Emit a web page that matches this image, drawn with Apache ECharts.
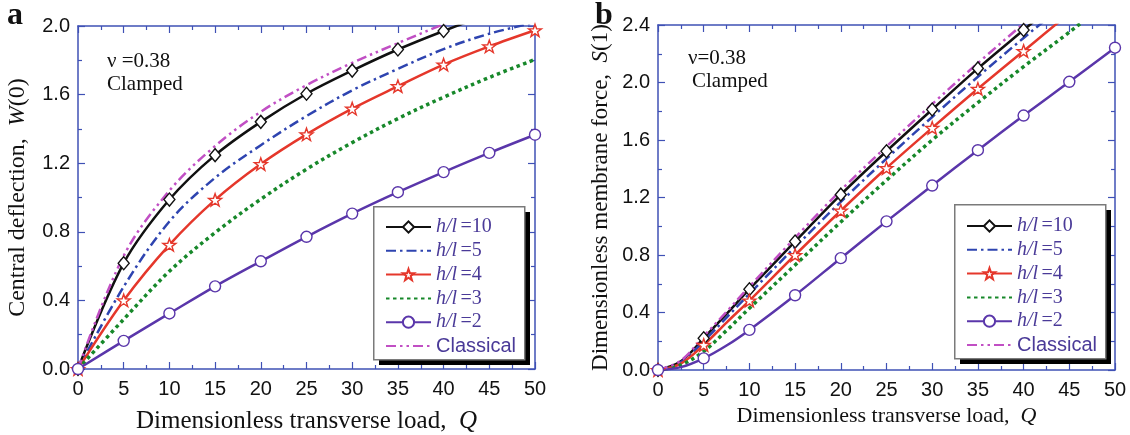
<!DOCTYPE html>
<html>
<head>
<meta charset="utf-8">
<script src="https://cdn.jsdelivr.net/npm/echarts@6/dist/echarts.min.js"></script>
<style>
  html, body { margin: 0; padding: 0; background: #fff; }
  #chart { width: 1130px; height: 435px; }
</style>
</head>
<body>
<div id="chart"></div>
<script>
// panel a: central deflection W(0) vs load Q
const qLeft = [0, 5, 10, 15, 20, 25, 30, 35, 40, 45, 50];
const wHl10 = [0, 0.617, 0.988, 1.247, 1.441, 1.605, 1.740, 1.863, 1.971, 2.07, 2.16];
const wHl5 = [0, 0.48, 0.86, 1.115, 1.305, 1.475, 1.625, 1.75, 1.865, 1.955, 2.02];
const wHl4 = [0, 0.40, 0.724, 0.986, 1.195, 1.368, 1.518, 1.649, 1.775, 1.881, 1.975];
const wHl3 = [0, 0.29, 0.57, 0.795, 0.99, 1.165, 1.32, 1.46, 1.585, 1.70, 1.805];
const wHl2 = [0, 0.164, 0.324, 0.482, 0.628, 0.771, 0.906, 1.031, 1.148, 1.26, 1.366];
const wClassical = [0, 0.66, 1.04, 1.30, 1.50, 1.655, 1.785, 1.90, 2.01, 2.11, 2.21];

// panel b: membrane force S(1) vs load Q
const qRight = [0, 2.5, 5, 7.5, 10, 15, 20, 25, 30, 35, 40, 45, 50];
const sHl10 = [0, 0.06, 0.221, 0.39, 0.562, 0.894, 1.22, 1.522, 1.812, 2.098, 2.365, 2.63, 2.89];
const sHl5 = [0, 0.055, 0.20, 0.365, 0.53, 0.855, 1.17, 1.47, 1.76, 2.04, 2.31, 2.57, 2.83];
const sHl4 = [0, 0.045, 0.174, 0.33, 0.483, 0.80, 1.108, 1.405, 1.684, 1.956, 2.219, 2.48, 2.73];
const sHl3 = [0, 0.035, 0.13, 0.275, 0.43, 0.73, 1.03, 1.32, 1.60, 1.86, 2.11, 2.35, 2.60];
const sHl2 = [0, 0.02, 0.081, 0.17, 0.279, 0.52, 0.778, 1.034, 1.283, 1.529, 1.77, 2.005, 2.242];
const sClassical = [0, 0.065, 0.235, 0.405, 0.58, 0.92, 1.25, 1.555, 1.85, 2.135, 2.41, 2.68, 2.95];

const seriesNames = ['h/l =10', 'h/l =5', 'h/l =4', 'h/l =3', 'h/l =2', 'Classical'];
const xTicks = { min: 0, max: 50, interval: 5 };
const yTicksLeft = { min: 0, max: 2.0, interval: 0.4 };
const yTicksRight = { min: 0, max: 2.4, interval: 0.4 };

const axisBlue = '#3f51b5';
const legendInk = '#4a3a98';
const serif = '"Liberation Serif", "Times New Roman", serif';
const sans = '"Liberation Sans", Arial, sans-serif';

const starPath = 'path://M0,-50L11.76,-16.18L47.55,-15.45L19.02,6.18L29.39,40.45L0,20L-29.39,40.45L-19.02,6.18L-47.55,-15.45L-11.76,-16.18Z';

// line/marker look per series name
const styles = {
    'h/l =10': { color: '#111111', type: 'solid', symbol: 'diamond', size: [11, 13] },
    'h/l =5': { color: '#2e44b0', type: [10, 4, 2.5, 4], symbol: 'none' },
    'h/l =4': { color: '#e5372b', type: 'solid', symbol: starPath, size: 13 },
    'h/l =3': { color: '#17882a', type: [3.5, 3.5], symbol: 'none', width: 3.5 },
    'h/l =2': { color: '#5a36aa', type: 'solid', symbol: 'circle', size: 11 },
    'Classical': { color: '#c14fc4', type: [10, 4, 2.5, 4, 2.5, 4], symbol: 'none' }
};

function makeSeries(name, qs, vals, gridIdx) {
    const st = styles[name];
    const plain = st.symbol === 'none';
    const data = qs.map((q, i) => {
        const item = { value: [q, vals[i]] };
        if (q % 5 !== 0) item.symbol = 'none';
        return item;
    });
    return {
        name: name,
        type: 'line',
        xAxisIndex: gridIdx * 2,
        yAxisIndex: gridIdx * 2,
        smooth: 0.35,
        data: data,
        symbol: st.symbol,
        symbolSize: st.size || 10,
        symbolKeepAspect: true,
        showAllSymbol: true,
        clip: true,
        z: 3,
        lineStyle: { color: st.color, width: st.width || 2.5, type: st.type, cap: 'butt' },
        // no visible marker in the legend for plain lines
        itemStyle: plain
            ? { color: 'rgba(0,0,0,0)', borderWidth: 0, opacity: 0 }
            : { color: '#ffffff', borderColor: st.color, borderWidth: 1.4 },
        emphasis: { disabled: true },
        animation: false
    };
}

function xAxis(gridIdx, pos, nameGap) {
    const bottom = pos === 'bottom';
    const fs = gridIdx === 0 ? 25 : 22;
    return {
        type: 'value', gridIndex: gridIdx, position: pos,
        min: xTicks.min, max: xTicks.max, interval: xTicks.interval,
        name: bottom ? '{t|Dimensionless transverse load,  }{i|Q}' : '',
        nameLocation: 'middle', nameGap: nameGap,
        nameTextStyle: {
            rich: {
                t: { fontFamily: serif, fontSize: fs, color: '#111' },
                i: { fontFamily: serif, fontStyle: 'italic', fontSize: fs, color: '#111' }
            }
        },
        axisLine: { show: true, onZero: false, lineStyle: { color: axisBlue, width: 1.5 } },
        axisTick: { show: true, inside: true, length: 7, lineStyle: { color: axisBlue, width: 1.2 } },
        minorTick: { show: true, splitNumber: 2, length: 4, lineStyle: { color: axisBlue, width: 1.2 } },
        splitLine: { show: false },
        axisLabel: { show: bottom, margin: 10, fontFamily: sans, fontSize: 20, color: '#111' }
    };
}

function yAxis(gridIdx, pos, ticks, nameRich, nameGap, fs) {
    const left = pos === 'left';
    return {
        type: 'value', gridIndex: gridIdx, position: pos,
        min: ticks.min, max: ticks.max, interval: ticks.interval,
        name: left ? nameRich : '',
        nameLocation: 'middle', nameGap: nameGap, nameRotate: 90,
        nameTextStyle: {
            rich: {
                t: { fontFamily: serif, fontSize: fs, color: '#111' },
                i: { fontFamily: serif, fontStyle: 'italic', fontSize: fs, color: '#111' }
            }
        },
        axisLine: { show: true, onZero: false, lineStyle: { color: axisBlue, width: 1.5 } },
        axisTick: { show: true, inside: true, length: 7, lineStyle: { color: axisBlue, width: 1.2 } },
        minorTick: { show: true, splitNumber: 2, length: 4, lineStyle: { color: axisBlue, width: 1.2 } },
        splitLine: { show: false },
        axisLabel: {
            show: left, margin: 8, fontFamily: sans, fontSize: 20, color: '#111',
            formatter: (v) => v.toFixed(1)
        }
    };
}

// legend entries only; the framed box with its hard shadow is drawn as graphic rects
function legend(left, top) {
    return {
        orient: 'vertical', left: left, top: top, z: 20,
        data: seriesNames,
        padding: 0,
        itemWidth: 45, itemHeight: 14, itemGap: 3.8,
        selectedMode: false,
        formatter: (name) => {
            if (name === 'Classical') return '{c|Classical}';
            return '{i|h/l} {n|' + name.split(' ')[1] + '}';
        },
        textStyle: {
            color: legendInk,
            rich: {
                i: { fontFamily: serif, fontStyle: 'italic', fontSize: 20, color: legendInk },
                n: { fontFamily: serif, fontSize: 20, color: legendInk },
                c: { fontFamily: sans, fontSize: 20, color: legendInk }
            }
        }
    };
}

function legendFrame(x, y, w, h) {
    return [
        { type: 'rect', left: x + 6, top: y + 6, z: 10, shape: { width: w, height: h },
          style: { fill: '#000' } },
        { type: 'rect', left: x, top: y, z: 11, shape: { width: w, height: h },
          style: { fill: '#fff', stroke: '#7a7a7a', lineWidth: 1.5 } }
    ];
}

function label(text, x, y, size, weight) {
    return {
        type: 'text', left: x, top: y, z: 100,
        style: { text: text, fontFamily: serif, fontSize: size, fontWeight: weight || 'normal', fill: '#111' }
    };
}

const chart = echarts.init(document.getElementById('chart'), null, { renderer: 'canvas' });

const leftData = [wHl10, wHl5, wHl4, wHl3, wHl2, wClassical];
const rightData = [sHl10, sHl5, sHl4, sHl3, sHl2, sClassical];

chart.setOption({
    animation: false,
    backgroundColor: '#ffffff',
    grid: [
        { left: 78, top: 26, width: 457, height: 343, containLabel: false, outerBoundsMode: 'none' },
        { left: 658, top: 25, width: 457, height: 345, containLabel: false, outerBoundsMode: 'none' }
    ],
    xAxis: [xAxis(0, 'bottom', 40), xAxis(0, 'top', 0), xAxis(1, 'bottom', 26), xAxis(1, 'top', 0)],
    yAxis: [
        yAxis(0, 'left', yTicksLeft, '{t|Central deflection,  }{i|W}{t|(0)}', 48, 24),
        yAxis(0, 'right', yTicksLeft, '', 0, 24),
        yAxis(1, 'left', yTicksRight, '{t|Dimensionless membrane force,  }{i|S}{t|(1)}', 46, 23),
        yAxis(1, 'right', yTicksRight, '', 0, 23)
    ],
    legend: [legend(385, 217), legend(966, 216)],
    graphic: legendFrame(373, 206, 151, 153)
        .concat(legendFrame(954, 204, 151, 154))
        .concat([
            label('a', 7, 0, 32, 'bold'),
            label('b', 595, 0, 32, 'bold'),
            label('\u03bd =0.38', 107, 51, 21),
            label('Clamped', 107, 74, 21),
            label('\u03bd=0.38', 688, 48, 21),
            label('Clamped', 692, 71, 21)
        ]),
    series: seriesNames.map((n, i) => makeSeries(n, qLeft, leftData[i], 0))
        .concat(seriesNames.map((n, i) => makeSeries(n, qRight, rightData[i], 1)))
});
</script>
</body>
</html>
